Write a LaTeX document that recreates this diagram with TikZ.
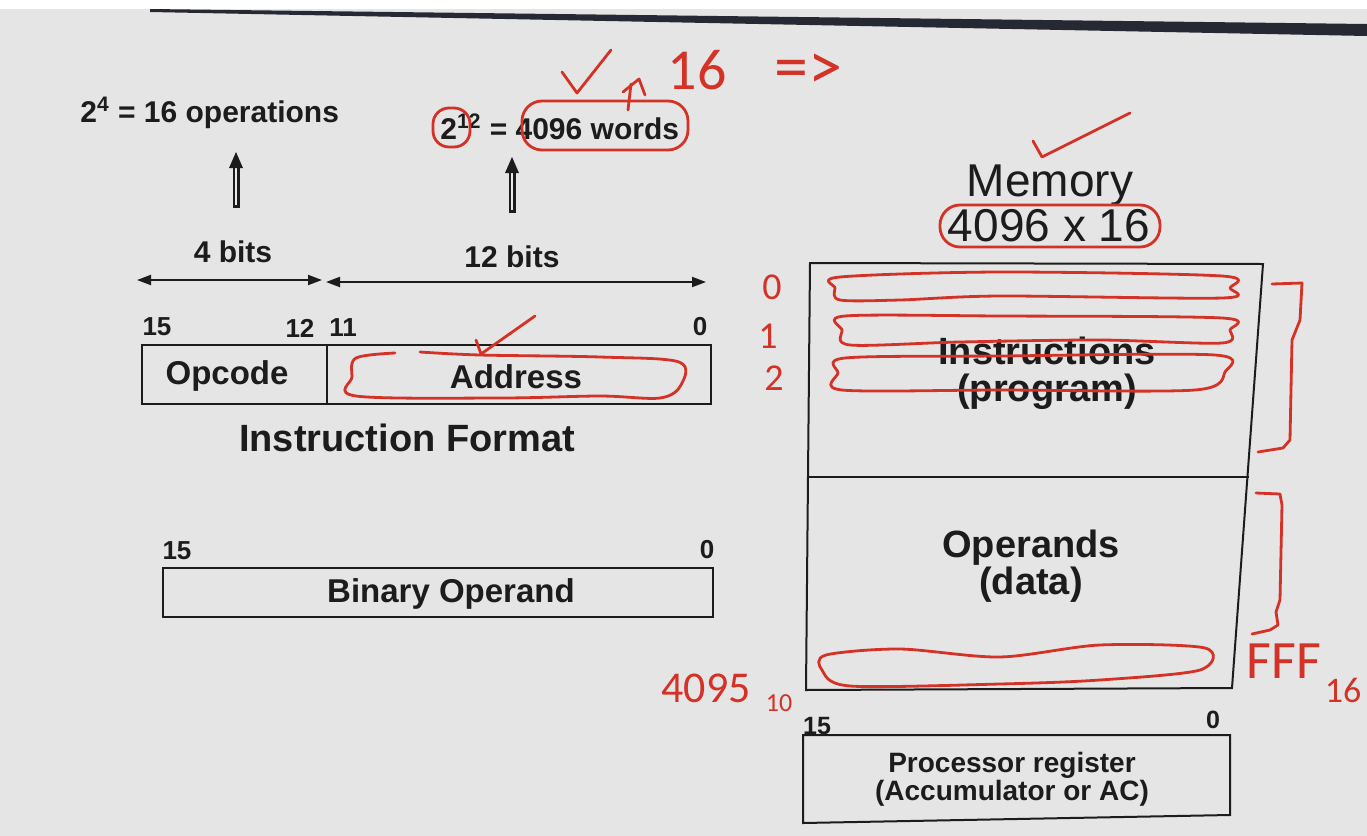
\documentclass[tikz,border=0pt]{standalone}
\usepackage{fontspec}
\setmainfont{Liberation Sans}
\newfontfamily\handfont{Carlito}
\usetikzlibrary{arrows.meta}
\definecolor{paper}{RGB}{229,229,229}
\definecolor{ink}{RGB}{28,28,28}
\definecolor{pen}{RGB}{212,50,38}
\definecolor{bezel}{RGB}{38,40,52}

\begin{document}
\begin{tikzpicture}[x=0.5pt,y=-0.5pt,
  lbl/.style={inner sep=0pt, text=ink, font=\bfseries\fontsize{15}{17}\selectfont},
  cell/.style={inner sep=0pt, text=ink, font=\bfseries\fontsize{16.5}{19}\selectfont},
  bitno/.style={inner sep=0pt, text=ink, font=\bfseries\fontsize{13}{15}\selectfont},
  frame/.style={draw=ink, line width=1pt},
  dim/.style={draw=ink, line width=1pt,
    {Triangle[length=7pt,width=5pt]}-{Triangle[length=7pt,width=5pt]}},
  hand/.style={draw=pen, line width=1.4pt, line cap=round, line join=round},
  handtext/.style={inner sep=0pt, text=pen, font=\handfont\fontsize{#1}{#1}\selectfont},
]
% screen surface and bezel edge
\fill[white] (0,0) rectangle (1367,836);
\fill[paper] (0,9) rectangle (1367,836);
\fill[bezel] (150,9) -- (1367,24) -- (1367,36) -- (150,12) -- cycle;
\useasboundingbox (0,0) rectangle (1367,836);

% ---------- instruction format ----------
\node[lbl, anchor=west] (ops) at (80,113) {2\textsuperscript{4} = 16 operations};
\node[lbl, anchor=west] (words) at (440,127) {2\textsuperscript{12} = 4096 words};

% hollow-shaft arrows pointing up to the counts
\foreach \x/\b/\t in {236/208/152, 512/213/157}{
  \draw[ink, line width=3.5pt] (\x,\b) -- (\x,\t+12);
  \draw[paper!80!white, line width=1.1pt] (\x,\b-3) -- (\x,\t+15);
  \fill[ink] (\x,\t) -- (\x+7,\t+16) -- (\x-7,\t+16) -- cycle;
}

\node[lbl] (bits4) at (233,252) {4 bits};
\node[lbl] (bits12) at (512,257) {12 bits};
\coordinate (d1a) at (137,280); \coordinate (d1b) at (322,280);
\coordinate (d2a) at (326,282); \coordinate (d2b) at (706,282);
\draw[dim] (d1a) -- (d1b);
\draw[dim] (d2a) -- (d2b);

\node[bitno] (i15) at (157,327) {15};
\node[bitno] (i12) at (300,328) {12};
\node[bitno] (i11) at (343,328) {11};
\node[bitno] (i0) at (700,327) {0};
\draw[frame] (142,345) rectangle (711,404);
\draw[frame] (327,345) -- (327,404);
\node[cell] (opcode) at (227,376) {Opcode};
\node[cell] (address) at (516,377) {Address};
\node[inner sep=0pt, text=ink, font=\bfseries\fontsize{19}{21}\selectfont]
  (fmt) at (407,438) {Instruction Format};

% ---------- binary operand ----------
\node[bitno] (b15) at (177,551) {15};
\node[bitno] (b0) at (707,550) {0};
\draw[frame] (163,568) rectangle (713,617);
\node[cell] (operand) at (451,594) {Binary Operand};

% ---------- memory ----------
\node[inner sep=0pt, text=ink, font=\fontsize{23}{26}\selectfont] (mem) at (1050,185) {Memory};
\node[inner sep=0pt, text=ink, font=\fontsize{23}{26}\selectfont] (size) at (1049,226) {4096 x 16};
\draw[frame] (810,263) -- (1263,264) -- (1232,688) -- (806,690) -- cycle;
\draw[frame] (808,477) -- (1249,477);
\node[inner sep=0pt, text=ink, align=center, font=\bfseries\fontsize{19}{18.5}\selectfont]
  (prog) at (1047,373) {Instructions\\(program)};
\node[inner sep=0pt, text=ink, align=center, font=\bfseries\fontsize{19}{17}\selectfont]
  (data) at (1031,566) {Operands\\(data)};

% ---------- accumulator ----------
\node[bitno, font=\bfseries\fontsize{12.5}{14}\selectfont] (r15) at (817,726) {15};
\node[bitno, font=\bfseries\fontsize{12.5}{14}\selectfont] (r0) at (1213,720) {0};
\draw[frame] (803,735) -- (1230,735) -- (1230,815) -- (803,823) -- cycle;
\node[inner sep=0pt, text=ink, align=center, font=\bfseries\fontsize{14}{12.5}\selectfont]
  (acc) at (1012,779) {Processor register\\(Accumulator or AC)};

% ---------- pen marks ----------
\draw[hand] (562,72) -- (577,93) -- (611,50);
\draw[hand] (628,110) -- (631,84);
\draw[hand] (623,92) -- (639,79) -- (645,95);
\node[handtext=29] (sixteen) at (697,70) {16};
\node[handtext=34] (implies) at (808,72) {=>};

\draw[hand, rounded corners=8pt] (433,108) rectangle (470,147);
\draw[hand, rounded corners=10pt] (522,101) rectangle (688,150);

\draw[hand] (1033,141) -- (1042,157) -- (1130,113);
\draw[hand, rounded corners=10pt] (940,205) rectangle (1160,247);

\draw[hand] (476,340) -- (481,354) -- (535,316);
\draw[hand] plot[smooth, tension=0.55] coordinates {(395,353) (356,358) (352,377) (356,396)
  (500,398) (600,396) (660,398) (681,385) (679,362) (600,357) (480,355) (420,352)};

\node[handtext=19] (m0) at (772,287) {0};
\node[handtext=19] (m1) at (768,336) {1};
\node[handtext=19] (m2) at (774,378) {2};

\draw[hand] plot[smooth cycle, tension=0.5] coordinates {(840,277) (1000,272) (1222,276)
  (1230,288) (1222,298) (1000,296) (900,300) (840,300) (835,288)};
\draw[hand] plot[smooth cycle, tension=0.5] coordinates {(845,316) (1000,316) (1222,318)
  (1230,330) (1222,343) (1100,340) (960,342) (850,345) (842,330)};
\draw[hand] plot[smooth cycle, tension=0.5] coordinates {(845,358) (1000,356) (1215,355)
  (1225,372) (1195,390) (1000,390) (842,390) (838,373)};
\draw[hand] plot[smooth cycle, tension=0.5] coordinates {(826,655) (900,649) (1000,657)
  (1100,645) (1205,648) (1200,670) (1100,680) (1000,684) (850,686) (822,670)};

\draw[hand] (1272,284) -- (1302,283) -- (1300,320) -- (1292,340) -- (1290,440)
  -- (1283,448) -- (1258,452);
\draw[hand] (1256,493) -- (1280,494) -- (1282,505) -- (1280,600) -- (1276,612)
  -- (1278,625) -- (1270,630) -- (1252,634);

\node[handtext=22, anchor=west] (dec) at (661,688) {4095};
\node[handtext=13] (dec10) at (779,703) {10};
\node[handtext=27] (hex) at (1284,661) {FFF};
\node[handtext=18] (hex16) at (1343,690) {16};
\end{tikzpicture}
\end{document}
